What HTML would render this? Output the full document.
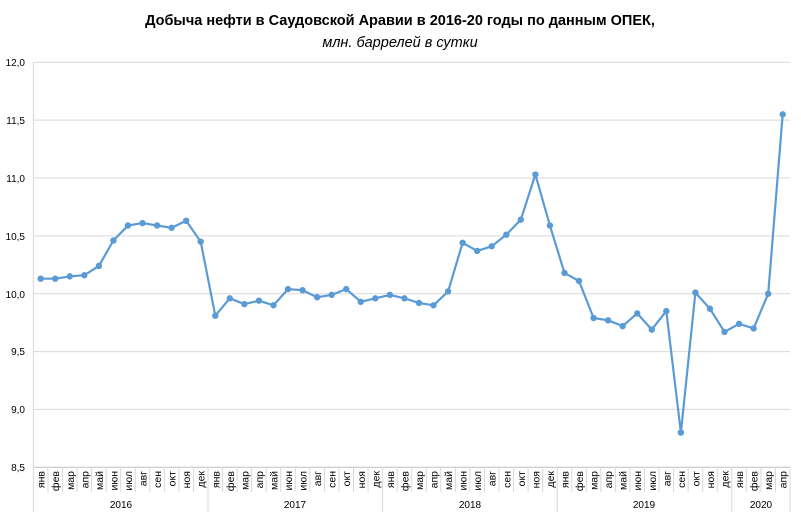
<!DOCTYPE html>
<html><head><meta charset="utf-8"><style>
body{margin:0;background:#fff}
svg text{font-family:"Liberation Sans","DejaVu Sans",sans-serif}
</style></head><body>
<svg id="s" width="801" height="516" xmlns="http://www.w3.org/2000/svg">
<rect width="801" height="516" fill="#fff"/>
<text x="400" y="25" text-anchor="middle" font-size="14.5" font-weight="bold" fill="#000">Добыча  нефти в Саудовской  Аравии  в 2016-20 годы по данным  ОПЕК,</text>
<text x="400" y="47" text-anchor="middle" font-size="14.5" font-style="italic" fill="#000">млн. баррелей в сутки</text>
<g id="grid"></g>
<g font-size="10" fill="#000" text-anchor="end">
<text x="25" y="66">12,0</text><text x="25" y="124">11,5</text><text x="25" y="182">11,0</text>
<text x="25" y="240">10,5</text><text x="25" y="298">10,0</text><text x="25" y="355">9,5</text>
<text x="25" y="413">9,0</text><text x="25" y="471">8,5</text>
</g>
<g id="months" font-size="10.5" fill="#000" text-anchor="end"></g>
<g font-size="10" fill="#000" text-anchor="middle">
<text x="121" y="508">2016</text><text x="295" y="508">2017</text><text x="470" y="508">2018</text>
<text x="644" y="508">2019</text><text x="761" y="508">2020</text>
</g>
<g id="ser"></g>
</svg>
<script>
var ns="http://www.w3.org/2000/svg",L=33.4,W=14.55,R=L+52*W;
function yv(v){return 62.3+(12-v)*115.71}
function el(t,a,p){var e=document.createElementNS(ns,t);for(var k in a)e.setAttribute(k,a[k]);p.appendChild(e);return e}
var g=document.getElementById('grid');
for(var i=0;i<8;i++){var y=yv(12-i*0.5);el('line',{x1:L,x2:R,y1:y,y2:y,stroke:i==7?'#bfbfbf':'#d9d9d9','stroke-width':1},g)}
el('line',{x1:L,x2:L,y1:62,y2:512,stroke:'#d9d9d9'},g);
for(var i=1;i<=52;i++){var x=L+i*W;var yr=(i%12==0)||i==52;el('line',{x1:x,x2:x,y1:467,y2:yr?512:492,stroke:'#d9d9d9'},g)}
var m=["янв","фев","мар","апр","май","июн","июл","авг","сен","окт","ноя","дек"];
var mg=document.getElementById('months');
for(var i=0;i<52;i++){var x=L+W*(i+0.5)+4;var t=el('text',{transform:'translate('+x+',471) rotate(-90)'},mg);t.textContent=m[i%12]}
var d=[10.13,10.13,10.15,10.16,10.24,10.46,10.59,10.61,10.59,10.57,10.63,10.45,
9.81,9.96,9.91,9.94,9.90,10.04,10.03,9.97,9.99,10.04,9.93,9.96,
9.99,9.96,9.92,9.90,10.02,10.44,10.37,10.41,10.51,10.64,11.03,10.59,
10.18,10.11,9.79,9.77,9.72,9.83,9.69,9.85,8.80,10.01,9.87,9.67,
9.74,9.70,10.00,11.55];
var s=document.getElementById('ser'),pts=[];
d.forEach(function(v,i){pts.push((L+W*(i+0.5)).toFixed(1)+','+yv(v).toFixed(1))});
el('polyline',{points:pts.join(' '),fill:'none',stroke:'#5b9bd5','stroke-width':2.2,'stroke-linejoin':'round'},s);
d.forEach(function(v,i){el('circle',{cx:L+W*(i+0.5),cy:yv(v),r:3.2,fill:'#5b9bd5'},s)});
</script>
</body></html>
